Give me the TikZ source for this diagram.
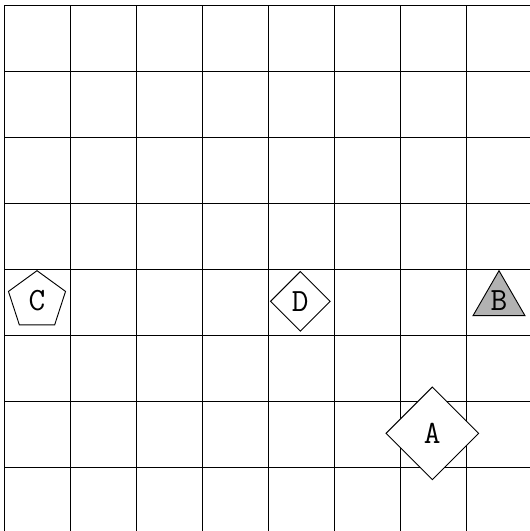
\documentclass[tikz,border=0pt]{standalone}
\usetikzlibrary{shapes.geometric}
\tikzset{
  lbl/.style={draw=black, fill=white, inner sep=0pt, font=\ttfamily\fontsize{14}{16}\selectfont, line width=0.4pt},
  pent/.style={lbl, regular polygon, regular polygon sides=5, minimum size=0.909cm},
  tri/.style={lbl, regular polygon, regular polygon sides=3, minimum size=0.909cm, fill=gray!60},
  dia/.style={lbl, diamond, minimum width=#1, minimum height=#1},
  gridline/.style={line width=0.4pt, black}
}
\begin{document}
\begin{tikzpicture}
\useasboundingbox (-0.0606,0.0758) rectangle (7.9697,-7.9697);
\clip (-0.0606,0.0758) rectangle (7.9697,-7.9697);
\fill[white] (-0.0606,0.0758) rectangle (7.9697,-7.9697);
\draw[gridline] (0,-8) grid[step=1] (8,0);
\node[pent] (C) at (0.5,-4.48) {C};
\node[dia=0.909cm] (D) at (4.49,-4.49) {D};
\node[tri] (B) at (7.5,-4.48) {B};
\node[dia=1.41cm] (A) at (6.49,-6.49) {A};
\end{tikzpicture}
\end{document}
